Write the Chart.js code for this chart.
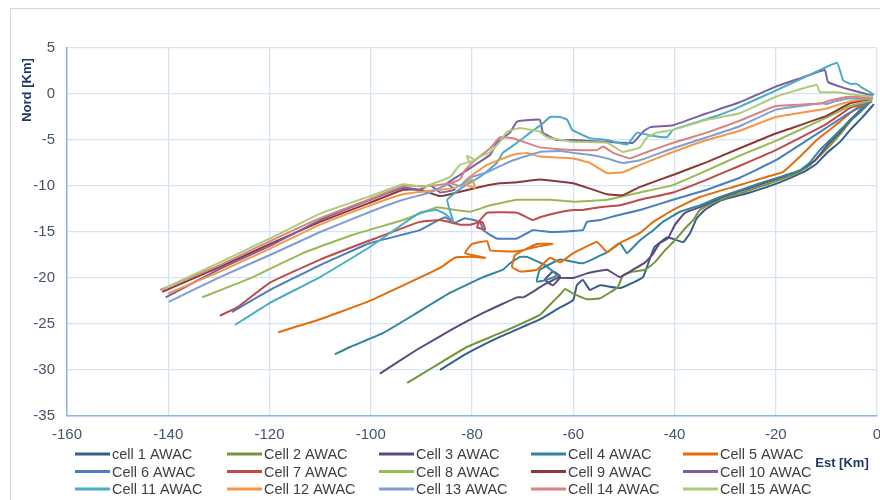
<!DOCTYPE html>
<html>
<head>
<meta charset="utf-8">
<script src="https://cdn.jsdelivr.net/npm/chart.js@4.4.1/dist/chart.umd.min.js"></script>
<style>
  html, body { margin: 0; padding: 0; background: #fff; }
  #wrap { width: 880px; height: 500px; }
</style>
</head>
<body>
<div id="wrap"><canvas id="awacChart" width="880" height="500"></canvas></div>
<script>
// Progressive vector trajectories, one per AWAC cell: [Est km, Nord km]
const cellNames = ['cell 1 AWAC', 'Cell 2 AWAC', 'Cell 3 AWAC', 'Cell 4 AWAC', 'Cell 5 AWAC',
  'Cell 6 AWAC', 'Cell 7 AWAC', 'Cell 8 AWAC', 'Cell 9 AWAC', 'Cell 10 AWAC',
  'Cell 11 AWAC', 'Cell 12 AWAC', 'Cell 13 AWAC', 'Cell 14 AWAC', 'Cell 15 AWAC'];

const cell1 = [[-0.6,-1.1],[-3.0,-2.6],[-5.3,-3.9],[-7.3,-5.2],[-9.7,-6.3],[-12.2,-7.7],[-14.6,-8.5],
  [-19.2,-9.6],[-25.1,-10.7],[-31.0,-11.6],[-34.0,-12.6],[-35.6,-13.5],[-36.9,-15.1],[-38.3,-16.1],
  [-40.5,-15.7],[-41.5,-15.6],[-43.9,-16.6],[-44.8,-17.8],[-46.2,-19.9],[-48.2,-20.5],[-50.8,-21.1],
  [-54.7,-20.8],[-56.7,-21.3],[-58.1,-20.2],[-59.3,-20.8],[-60.0,-22.4],[-62.6,-23.2],[-66.6,-24.5],
  [-74.5,-26.4],[-81.0,-28.2],[-86.3,-30.0]];
const cell2 = [[-1.8,-0.9],[-3.8,-2.0],[-6.3,-3.7],[-8.3,-5.0],[-10.7,-6.4],[-13.2,-7.7],[-15.8,-8.6],
  [-21.1,-9.7],[-27.1,-10.8],[-32.0,-11.7],[-35.0,-12.6],[-36.3,-13.7],[-37.9,-14.6],[-39.9,-15.9],
  [-41.9,-17.0],[-43.9,-18.3],[-45.8,-19.1],[-48.2,-19.3],[-50.2,-19.7],[-51.2,-21.0],[-54.7,-22.2],
  [-57.3,-22.3],[-60.0,-21.7],[-61.6,-21.2],[-62.6,-21.8],[-64.6,-22.9],[-66.6,-24.0],[-74.5,-26.0],
  [-81.0,-27.5],[-87.7,-29.7],[-92.8,-31.4]];
const cell3 = [[-2.4,-1.4],[-5.3,-2.8],[-7.3,-4.1],[-9.7,-5.5],[-12.2,-7.2],[-15.2,-8.3],[-19.2,-9.1],
  [-25.1,-10.2],[-31.0,-11.3],[-35.0,-12.3],[-37.9,-12.9],[-39.9,-14.2],[-41.3,-15.7],[-42.9,-16.2],
  [-44.4,-17.5],[-45.8,-18.3],[-48.2,-19.1],[-50.8,-19.9],[-53.3,-19.1],[-55.7,-19.3],[-57.3,-19.5],
  [-60.0,-20.0],[-62.6,-20.0],[-64.0,-20.8],[-65.6,-20.2],[-64.0,-19.3],[-62.6,-19.8],[-66.0,-20.8],
  [-68.0,-21.5],[-69.9,-22.1],[-71.1,-22.1],[-77.8,-23.8],[-84.3,-25.7],[-90.9,-27.8],[-98.2,-30.4]];
const cell4 = [[-1.0,-0.7],[-3.4,-2.0],[-6.3,-3.4],[-8.7,-4.7],[-11.3,-6.1],[-13.2,-7.4],[-15.2,-8.3],
  [-23.1,-9.7],[-31.0,-11.2],[-35.0,-12.1],[-38.9,-12.8],[-42.3,-13.9],[-44.2,-14.8],[-46.8,-15.9],
  [-49.4,-17.3],[-50.8,-16.2],[-53.3,-17.2],[-58.1,-18.4],[-62.6,-18.0],[-66.6,-19.1],[-67.2,-20.4],
  [-65.2,-20.2],[-63.2,-19.7],[-65.6,-18.6],[-69.1,-17.7],[-70.5,-17.7],[-72.5,-18.4],[-73.9,-19.1],
  [-77.8,-19.9],[-84.3,-21.6],[-90.9,-23.8],[-97.6,-26.0],[-104.1,-27.5],[-107.1,-28.3]];
const cell5 = [[-0.8,-0.4],[-4.0,-1.5],[-7.3,-3.0],[-11.9,-5.0],[-15.2,-6.8],[-18.6,-8.5],[-21.7,-9.0],
  [-28.4,-10.1],[-35.0,-11.2],[-40.3,-12.6],[-44.2,-13.9],[-46.8,-15.1],[-50.8,-16.2],[-53.3,-17.2],
  [-55.3,-16.1],[-60.0,-17.3],[-62.6,-18.3],[-64.6,-17.8],[-67.2,-19.1],[-70.5,-19.3],[-72.1,-18.8],
  [-71.5,-17.5],[-67.2,-16.3],[-64.0,-16.3],[-67.2,-16.6],[-71.1,-17.1],[-76.4,-17.0],[-77.0,-16.0],
  [-80.0,-16.3],[-81.4,-17.3],[-77.4,-17.8],[-80.4,-17.7],[-83.4,-17.8],[-86.3,-18.9],[-100.7,-22.6],
  [-110.6,-24.6],[-118.3,-25.9]];
const cell6 = [[-1.0,-0.8],[-5.3,-2.0],[-10.1,-3.7],[-20.0,-7.2],[-27.1,-9.1],[-33.6,-10.4],[-40.3,-11.5],
  [-46.8,-12.6],[-51.4,-13.2],[-54.7,-13.7],[-57.3,-13.9],[-58.1,-14.8],[-64.6,-15.0],[-68.0,-14.8],
  [-71.1,-15.7],[-75.1,-15.7],[-77.8,-14.8],[-78.4,-13.9],[-81.4,-13.5],[-83.4,-14.0],[-85.3,-13.4],
  [-86.9,-13.8],[-90.3,-14.8],[-100.1,-16.2],[-110.0,-18.6],[-119.9,-21.3],[-127.4,-23.7]];
const cell7 = [[-1.2,-0.8],[-5.3,-1.5],[-10.1,-3.3],[-20.0,-6.1],[-27.1,-7.8],[-33.6,-9.3],[-40.3,-10.7],
  [-46.8,-11.5],[-50.8,-12.1],[-54.7,-12.3],[-58.1,-12.6],[-60.0,-12.6],[-63.2,-12.9],[-66.6,-13.4],
  [-68.0,-13.7],[-71.1,-12.9],[-77.0,-12.9],[-78.4,-13.7],[-79.0,-14.5],[-77.4,-14.7],[-78.0,-13.9],
  [-80.4,-14.2],[-82.4,-14.2],[-86.3,-13.7],[-90.3,-13.9],[-100.1,-15.9],[-110.0,-18.0],[-119.9,-20.5],
  [-126.4,-23.2],[-129.8,-24.1]];
const cell8 = [[-1.0,-0.7],[-5.3,-1.3],[-10.1,-2.6],[-20.0,-5.1],[-27.1,-6.7],[-33.6,-8.3],[-40.3,-9.9],
  [-46.8,-10.7],[-53.3,-11.5],[-60.0,-11.7],[-64.6,-11.5],[-71.1,-11.5],[-76.4,-12.1],[-80.4,-12.8],
  [-83.4,-12.6],[-86.9,-12.3],[-90.3,-13.0],[-93.6,-13.7],[-103.5,-15.3],[-113.4,-17.3],[-123.3,-19.9],
  [-133.3,-22.1]];
const cell9 = [[-1.0,-0.5],[-5.3,-1.0],[-10.1,-2.4],[-20.0,-4.3],[-27.1,-5.9],[-33.6,-7.4],[-40.3,-8.8],
  [-46.8,-10.1],[-50.2,-11.0],[-53.3,-10.9],[-60.0,-9.7],[-66.6,-9.3],[-71.1,-9.6],[-74.5,-9.7],
  [-78.4,-10.1],[-83.0,-10.7],[-86.3,-11.1],[-90.3,-10.4],[-93.6,-10.4],[-100.1,-11.8],[-110.0,-13.9],
  [-119.9,-16.3],[-129.8,-18.8],[-141.2,-21.5]];
const cell10 = [[-0.8,-0.2],[-4.9,0.4],[-7.3,0.8],[-9.7,1.3],[-10.3,2.6],[-15.2,1.7],[-20.0,0.8],
  [-27.1,-0.9],[-33.6,-2.1],[-40.3,-3.4],[-44.8,-3.6],[-46.2,-4.1],[-48.2,-5.3],[-53.3,-5.2],
  [-60.0,-5.0],[-63.2,-5.0],[-66.0,-4.2],[-66.6,-2.8],[-71.1,-3.0],[-72.5,-4.2],[-75.1,-5.3],
  [-76.4,-6.6],[-79.4,-7.7],[-82.4,-8.8],[-84.9,-9.7],[-83.4,-10.4],[-86.3,-10.7],[-88.3,-9.9],
  [-90.3,-10.4],[-93.6,-10.2],[-100.1,-11.5],[-110.0,-13.7],[-119.9,-16.5],[-129.8,-19.0],[-140.5,-22.1]];
const cell11 = [[-126.8,-25.1],[-119.9,-22.7],[-110.0,-19.9],[-100.1,-16.6],[-90.3,-12.9],[-86.9,-12.6],
  [-84.9,-13.2],[-83.7,-13.9],[-84.9,-11.5],[-81.8,-10.1],[-78.4,-9.0],[-75.1,-7.5],[-73.9,-6.4],
  [-71.1,-5.3],[-68.5,-4.2],[-66.0,-3.2],[-64.6,-2.5],[-62.6,-2.5],[-61.2,-2.8],[-60.2,-3.9],
  [-56.7,-4.8],[-53.3,-5.0],[-49.4,-5.5],[-47.4,-4.2],[-44.8,-4.5],[-41.5,-4.7],[-40.3,-3.9],
  [-32.4,-2.5],[-28.4,-1.7],[-19.9,0.4],[-13.2,2.1],[-7.9,3.4],[-6.7,1.5],[-5.3,1.1],[-4.0,1.1],
  [-3.0,0.7],[-1.4,0.2],[-0.6,-0.1]];
const cell12 = [[-0.8,-0.5],[-4.3,-0.7],[-7.3,-1.1],[-10.1,-1.6],[-20.0,-2.5],[-27.1,-4.0],[-33.6,-5.0],
  [-40.3,-6.3],[-46.8,-7.7],[-50.2,-8.5],[-53.3,-8.6],[-56.7,-7.5],[-60.0,-7.0],[-66.6,-6.8],
  [-69.1,-6.4],[-71.9,-6.6],[-77.0,-7.7],[-80.4,-9.0],[-81.8,-9.7],[-79.4,-10.2],[-80.0,-9.3],
  [-83.4,-10.2],[-86.3,-10.4],[-93.6,-10.9],[-100.1,-12.1],[-110.0,-14.2],[-119.9,-16.8],[-129.8,-19.3],
  [-140.1,-21.7]];
const cell13 = [[-0.8,-0.5],[-5.3,-0.5],[-8.3,-0.8],[-10.1,-1.1],[-10.9,-1.0],[-15.2,-1.3],[-20.0,-1.7],
  [-27.1,-3.5],[-33.6,-4.7],[-40.3,-5.9],[-46.8,-7.2],[-50.2,-7.5],[-53.3,-7.0],[-56.7,-6.6],
  [-60.0,-6.4],[-62.6,-6.2],[-66.6,-6.3],[-71.9,-7.2],[-73.9,-7.7],[-77.0,-8.5],[-80.4,-9.1],
  [-82.4,-10.0],[-84.3,-9.7],[-88.3,-10.7],[-93.6,-11.5],[-100.1,-12.8],[-110.0,-15.0],[-119.9,-17.5],
  [-129.8,-19.9],[-139.9,-22.6]];
const cell14 = [[-0.8,-0.4],[-5.3,-0.3],[-9.3,-0.7],[-10.9,-1.0],[-13.2,-1.1],[-20.0,-1.3],[-27.1,-2.9],
  [-33.6,-4.2],[-40.3,-5.3],[-45.4,-6.3],[-48.8,-7.0],[-52.1,-6.4],[-54.1,-5.7],[-55.3,-6.1],
  [-60.0,-6.1],[-66.6,-5.8],[-71.9,-4.8],[-74.5,-4.7],[-76.4,-5.9],[-79.4,-7.2],[-81.4,-8.3],
  [-82.4,-9.3],[-84.3,-9.7],[-88.3,-10.0],[-93.6,-10.0],[-100.1,-11.4],[-110.0,-13.5],[-119.9,-16.0],
  [-129.8,-18.6],[-141.6,-21.3]];
const cell15 = [[-0.8,-0.3],[-4.0,-0.1],[-7.9,0.2],[-11.3,0.2],[-11.9,1.0],[-20.0,-0.3],[-27.1,-2.1],
  [-33.6,-2.8],[-40.3,-3.9],[-43.5,-4.2],[-45.4,-4.7],[-46.8,-5.8],[-50.2,-6.3],[-53.3,-5.3],
  [-60.0,-5.2],[-65.2,-4.7],[-66.6,-4.1],[-70.5,-3.7],[-73.1,-4.1],[-74.5,-5.2],[-76.4,-6.3],
  [-78.4,-6.8],[-80.4,-7.5],[-81.0,-6.7],[-79.4,-7.2],[-82.4,-7.7],[-84.3,-9.0],[-89.7,-10.1],
  [-93.6,-9.8],[-100.1,-11.1],[-110.0,-13.0],[-119.9,-15.7],[-129.8,-18.3],[-140.7,-21.1]];

const cellTracks = [cell1, cell2, cell3, cell4, cell5, cell6, cell7, cell8, cell9, cell10,
  cell11, cell12, cell13, cell14, cell15];

// axis ticks
const estTicks = [-160, -140, -120, -100, -80, -60, -40, -20, 0];
const nordTicks = [-35, -30, -25, -20, -15, -10, -5, 0, 5];

const cellColors = ['#385D8A', '#77933C', '#5F497A', '#31859C', '#E46C0A',
  '#4A7EBB', '#BE4B48', '#98B954', '#8C3836', '#7D60A0',
  '#4BACC6', '#F79646', '#7F9FD3', '#D8837F', '#AFCB7A'];

const FONT = '"Liberation Sans Narrow", "Arial Narrow", "Liberation Sans", sans-serif';

// frame, axis titles and a grid-style legend like the Excel original
const excelDecor = {
  id: 'excelDecor',
  afterDraw(chart) {
    const ctx = chart.ctx;
    ctx.save();
    ctx.strokeStyle = '#C9D8EC';
    ctx.lineWidth = 1;
    ctx.strokeRect(10.5, 8.5, 880, 500);

    ctx.fillStyle = '#1F3864';
    ctx.font = 'bold 13px ' + FONT;
    ctx.textAlign = 'center';
    ctx.textBaseline = 'middle';
    ctx.save();
    ctx.translate(27, 90);
    ctx.rotate(-Math.PI / 2);
    ctx.fillText('Nord [Km]', 0, 0);
    ctx.restore();
    ctx.fillText('Est [Km]', 842, 463);

    ctx.font = '14.5px ' + FONT;
    ctx.textAlign = 'left';
    ctx.fillStyle = '#404040';
    cellNames.forEach((name, i) => {
      const col = i % 5, row = Math.floor(i / 5);
      const x = 75 + col * 152, y = 454 + row * 17.5;
      ctx.strokeStyle = cellColors[i];
      ctx.lineWidth = 3;
      ctx.beginPath();
      ctx.moveTo(x, y);
      ctx.lineTo(x + 35, y);
      ctx.stroke();
      ctx.fillText(name, x + 37, y + 1);
    });
    ctx.restore();
  }
};

const ctx = document.getElementById('awacChart').getContext('2d');
const awacChart = new Chart(ctx, {
  type: 'scatter',
  data: {
    datasets: cellTracks.map((track, i) => ({
      label: cellNames[i],
      data: track.map(p => ({ x: p[0], y: p[1] })),
      showLine: true,
      borderColor: cellColors[i],
      backgroundColor: cellColors[i],
      borderWidth: 2,
      pointRadius: 0,
      tension: 0.1,
      order: 14 - i
    }))
  },
  options: {
    responsive: false,
    animation: false,
    layout: { padding: { left: 10, right: 3, top: 48, bottom: 54 } },
    plugins: {
      legend: { display: false },
      tooltip: { enabled: false }
    },
    scales: {
      x: {
        type: 'linear',
        min: -160,
        max: 0,
        afterBuildTicks: s => { s.ticks = estTicks.map(v => ({ value: v })); },
        afterFit: s => { s.height = 30; s.paddingRight = 0; s.paddingLeft = 0; },
        ticks: { color: '#44546A', font: { family: FONT, size: 15 }, padding: 10 },
        grid: { color: '#D6E3F4', lineWidth: 1.3, drawTicks: false },
        border: { color: '#8EB4E3', width: 1.5 }
      },
      y: {
        type: 'linear',
        min: -35,
        max: 5,
        afterBuildTicks: s => { s.ticks = nordTicks.map(v => ({ value: v })); },
        afterFit: s => { s.width = 57; s.paddingTop = 0; s.paddingBottom = 0; },
        ticks: { color: '#44546A', font: { family: FONT, size: 15 }, padding: 12 },
        grid: { color: '#D6E3F4', lineWidth: 1.3, drawTicks: false },
        border: { color: '#8EB4E3', width: 1.5 }
      }
    }
  },
  plugins: [excelDecor]
});
</script>
</body>
</html>
